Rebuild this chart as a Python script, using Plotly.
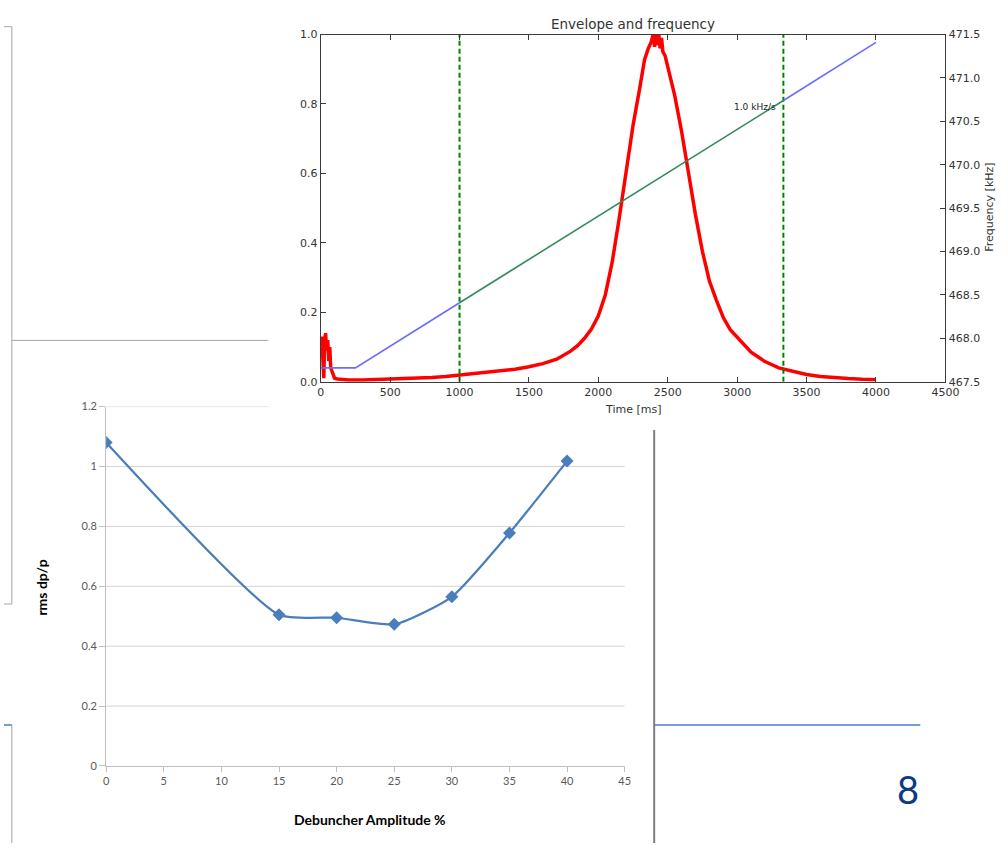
import plotly.graph_objects as go

W, H = 1008, 850


def px(x):
    return x / W


def py(y):
    return 1 - y / H


# ---- Debuncher scan (lower chart) ----
AMPLITUDE_PCT = [0, 15, 20, 25, 30, 35, 40]
RMS_DPP = [1.08, 0.505, 0.495, 0.473, 0.565, 0.778, 1.018]
AMP_TICKS = [0, 5, 10, 15, 20, 25, 30, 35, 40, 45]
RMS_TICKS = [0, 0.2, 0.4, 0.6, 0.8, 1.0, 1.2]

# ---- Envelope and frequency (upper chart) ----
ENV_T = [0, 8, 15, 22, 28, 35, 42, 50, 58, 65, 72, 80, 90, 100, 120, 150,
         200, 300, 400, 500, 600, 700, 800, 900, 1000, 1100, 1200, 1300,
         1400, 1500, 1600, 1700, 1800, 1850, 1900, 1950, 2000, 2050, 2100,
         2150, 2200, 2250, 2300, 2333, 2360, 2380, 2395, 2405, 2415, 2425,
         2435, 2445, 2455, 2465, 2480, 2500, 2550, 2600, 2650, 2700, 2750,
         2800, 2850, 2900, 2950, 3000, 3100, 3200, 3300, 3400, 3500, 3600,
         3700, 3800, 3900, 4000]
ENV_V = [0.10, 0.13, 0.07, 0.01, 0.12, 0.14, 0.09, 0.12, 0.06, 0.10, 0.04,
         0.03, 0.015, 0.01, 0.008, 0.006, 0.005, 0.005, 0.006, 0.007, 0.008,
         0.010, 0.012, 0.015, 0.019, 0.022, 0.026, 0.030, 0.036, 0.043,
         0.052, 0.065, 0.088, 0.104, 0.125, 0.152, 0.19, 0.25, 0.345, 0.47,
         0.605, 0.739, 0.85, 0.928, 0.96, 0.978, 1.0, 0.965, 1.0, 0.97, 1.0,
         0.96, 0.99, 0.95, 0.94, 0.91, 0.825, 0.72, 0.595, 0.48, 0.375,
         0.29, 0.235, 0.185, 0.15, 0.128, 0.085, 0.058, 0.04, 0.03, 0.021,
         0.015, 0.011, 0.009, 0.007, 0.006]

FREQ_T = [0, 250, 1000, 3333, 4000]
FREQ_KHZ = [467.66, 467.66, 468.41, 470.74, 471.41]
WINDOW_T = [1000, 3333]
RAMP_LABEL = "1.0 kHz/s"

TIME_TICKS = list(range(0, 4501, 500))
ENV_TICKS = [0.0, 0.2, 0.4, 0.6, 0.8, 1.0]
FREQ_TICKS = [467.5, 468.0, 468.5, 469.0, 469.5, 470.0, 470.5, 471.0, 471.5]

EXCEL_BLUE = "#4a7ebb"
MPL_FONT = "DejaVu Sans"
XL_FONT = "Lato"
AX_COL = "#3a3a3a"

fig = go.Figure()

# lower chart: smoothed line with diamond markers
fig.add_trace(go.Scatter(
    x=AMPLITUDE_PCT, y=RMS_DPP, xaxis="x", yaxis="y",
    mode="lines+markers", line=dict(color=EXCEL_BLUE, width=2.25, shape="spline", smoothing=0.55),
    marker=dict(symbol="diamond", size=10, color=EXCEL_BLUE),
    showlegend=False, hoverinfo="skip"))

# upper chart: beam envelope
fig.add_trace(go.Scatter(
    x=ENV_T, y=ENV_V, xaxis="x2", yaxis="y2", mode="lines",
    line=dict(color="#ff0000", width=3.5), showlegend=False, hoverinfo="skip"))

# capture window markers
for t in WINDOW_T:
    fig.add_trace(go.Scatter(
        x=[t, t], y=[ENV_TICKS[0], ENV_TICKS[-1]], xaxis="x2", yaxis="y2", mode="lines",
        line=dict(color="#008000", width=2, dash="5px,3px"), showlegend=False, hoverinfo="skip"))

# frequency program: blue outside the window, green inside
i0 = FREQ_T.index(WINDOW_T[0])
i1 = FREQ_T.index(WINDOW_T[1])
fig.add_trace(go.Scatter(
    x=FREQ_T[:i0 + 1], y=FREQ_KHZ[:i0 + 1], xaxis="x2", yaxis="y3", mode="lines",
    line=dict(color="#6b6bff", width=1.6), showlegend=False, hoverinfo="skip"))
fig.add_trace(go.Scatter(
    x=FREQ_T[i0:i1 + 1], y=FREQ_KHZ[i0:i1 + 1], xaxis="x2", yaxis="y3", mode="lines",
    line=dict(color="#338a5c", width=1.6), showlegend=False, hoverinfo="skip"))
fig.add_trace(go.Scatter(
    x=FREQ_T[i1:], y=FREQ_KHZ[i1:], xaxis="x2", yaxis="y3", mode="lines",
    line=dict(color="#6b6bff", width=1.6), showlegend=False, hoverinfo="skip"))

xl_tick = dict(family=XL_FONT, size=11, color="#595959")
mpl_tick = dict(family=MPL_FONT, size=11, color="#333333")

fig.update_layout(
    width=W, height=H, margin=dict(l=0, r=0, t=0, b=0),
    paper_bgcolor="white", plot_bgcolor="rgba(0,0,0,0)",
    xaxis=dict(domain=[px(104), px(632)], anchor="y", range=[0, 45],
               tickvals=AMP_TICKS, ticks="outside", ticklen=5, tickcolor="#bfbfbf",
               showline=True, linecolor="#bfbfbf", linewidth=1, showgrid=False,
               zeroline=False, tickfont=xl_tick),
    yaxis=dict(domain=[py(771.7), py(406.3)], anchor="x", range=[0, 1.2],
               tickvals=RMS_TICKS, ticks="outside", ticklen=6, tickcolor="#bfbfbf",
               showline=True, linecolor="#bfbfbf", linewidth=1, showgrid=False,
               zeroline=False, tickfont=xl_tick),
    xaxis2=dict(domain=[px(322.5), px(958.5)], anchor="y2", range=[0, 4500],
                tickvals=TIME_TICKS, ticks="inside", ticklen=5, tickcolor=AX_COL,
                showline=True, mirror="ticks", linecolor=AX_COL, linewidth=1.3,
                showgrid=False, zeroline=False, tickfont=mpl_tick),
    yaxis2=dict(domain=[py(381), py(28)], anchor="x2", range=[0, 1],
                tickvals=ENV_TICKS, tickformat=".1f", ticks="inside", ticklen=5,
                tickcolor=AX_COL, showline=True, linecolor=AX_COL, linewidth=1.3,
                showgrid=False, zeroline=False, tickfont=mpl_tick),
    yaxis3=dict(overlaying="y2", anchor="x2", side="right", range=[467.5, 471.5],
                tickvals=FREQ_TICKS, tickformat=".1f", ticks="inside", ticklen=5,
                tickcolor=AX_COL, showline=True, linecolor=AX_COL, linewidth=1.3,
                showgrid=False, zeroline=False, tickfont=mpl_tick),
)

shapes = []
# horizontal gridlines of the lower chart (top one runs under the upper chart)
for v in RMS_TICKS[1:]:
    x_end = 1 if v < RMS_TICKS[-1] else (269 - 104) / (632 - 104)
    shapes.append(dict(type="line", xref="x domain", yref="y", x0=0, x1=x_end, y0=v, y1=v,
                       line=dict(color="#d4d4d4", width=1), layer="below"))

grey = dict(color="#a6a6a6", width=1)
# slide frame pieces
shapes += [
    dict(type="line", xref="paper", yref="paper", x0=px(0), x1=px(8), y0=py(20), y1=py(20), line=grey),
    dict(type="line", xref="paper", yref="paper", x0=px(8), x1=px(8), y0=py(20), y1=py(607), line=grey),
    dict(type="line", xref="paper", yref="paper", x0=px(0), x1=px(8), y0=py(607), y1=py(607), line=grey),
    dict(type="line", xref="paper", yref="paper", x0=px(8), x1=px(269), y0=py(339), y1=py(339), line=grey),
    dict(type="line", xref="paper", yref="paper", x0=px(0), x1=px(8), y0=py(730), y1=py(730),
         line=dict(color=EXCEL_BLUE, width=1.5)),
    dict(type="line", xref="paper", yref="paper", x0=px(8), x1=px(8), y0=py(730), y1=py(850), line=grey),
    dict(type="line", xref="paper", yref="paper", x0=px(662), x1=px(662), y0=py(430), y1=py(850),
         line=dict(color="#7f7f7f", width=2)),
    dict(type="line", xref="paper", yref="paper", x0=px(662), x1=px(933), y0=py(730), y1=py(730),
         line=dict(color=EXCEL_BLUE, width=1.5)),
]
fig.update_layout(shapes=shapes)


def label(text, x, y, size, family, color, angle=0, xref="paper", yref="paper"):
    return dict(text=text, x=x, y=y, xref=xref, yref=yref, textangle=angle,
                xanchor="center", yanchor="middle", showarrow=False,
                font=dict(family=family, size=size, color=color))


ann = [
    # lower chart axis titles
    label("<b>rms dp/p</b>", px(38), py(590), 14, XL_FONT, "#000000", angle=-90),
    label("<b>Debuncher Amplitude %</b>", px(373), py(826), 14, XL_FONT, "#000000"),
    # upper chart titles
    label("Envelope and frequency", px(640), py(17), 13.5, MPL_FONT, "#333333"),
    label("Time [ms]", px(640), py(409), 11, MPL_FONT, "#333333"),
    label("Frequency [kHz]", px(1004), py(204), 11, MPL_FONT, "#333333", angle=-90),
    label(RAMP_LABEL, 3130, 0.79, 9, MPL_FONT, "#222222", xref="x2", yref="y2"),
    # slide number
    label("8", px(920), py(795), 38, XL_FONT, "#0b3a82"),
]
fig.update_layout(annotations=ann)

fig.write_html(
    "out.html",
    post_script="document.body.style.margin='0';document.body.style.overflow='hidden';",
)
